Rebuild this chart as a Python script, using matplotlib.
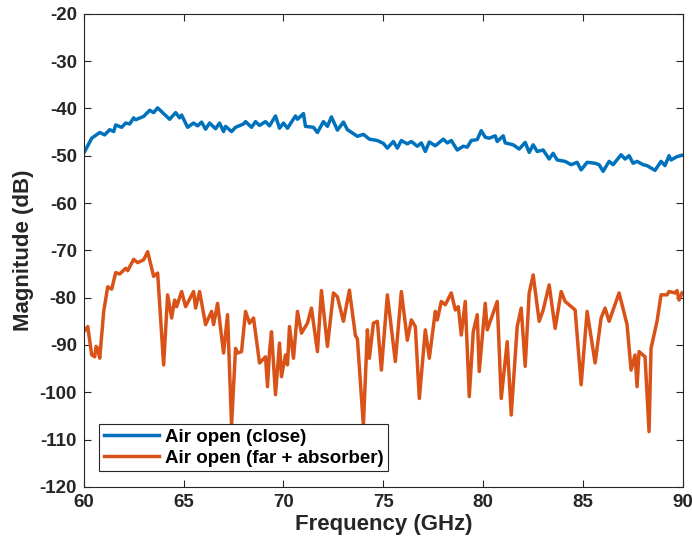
import matplotlib.pyplot as plt

plt.rcParams['font.family'] = ['Liberation Sans', 'DejaVu Sans']
plt.rcParams['font.weight'] = 'bold'
plt.rcParams['axes.unicode_minus'] = False

# Air open (close)
freq_close = [60.05, 60.4, 60.8, 61.05, 61.3, 61.5, 61.6, 61.9, 62.1, 62.3, 62.5, 62.6,
              63.0, 63.3, 63.5, 63.7, 64.0, 64.3, 64.6, 64.8, 64.9, 65.2, 65.5, 65.7,
              65.9, 66.1, 66.3, 66.6, 66.8, 67.0, 67.1, 67.4, 67.6, 68.0, 68.1, 68.4,
              68.6, 68.8, 69.1, 69.3, 69.6, 69.8, 70.0, 70.2, 70.6, 70.7, 71.0, 71.1,
              71.5, 71.7, 72.0, 72.2, 72.4, 72.7, 73.0, 73.2, 73.7, 74.0, 74.3, 74.7,
              75.0, 75.2, 75.5, 75.7, 75.9, 76.2, 76.4, 76.7, 76.9, 77.1, 77.3, 77.6,
              78.0, 78.2, 78.4, 78.7, 79.0, 79.2, 79.4, 79.7, 79.9, 80.1, 80.3, 80.6,
              80.7, 81.0, 81.1, 81.5, 81.8, 82.1, 82.3, 82.5, 82.7, 83.0, 83.3, 83.5,
              83.7, 84.1, 84.4, 84.7, 84.9, 85.2, 85.6, 85.8, 86.0, 86.3, 86.5, 86.9,
              87.1, 87.3, 87.5, 87.7, 88.0, 88.2, 88.6, 88.9, 89.1, 89.3, 89.4, 89.7,
              89.95]
mag_close = [-49.1, -46.3, -45.1, -45.6, -44.5, -44.9, -43.5, -44.0, -43.1, -43.3, -42.0, -42.4,
             -41.7, -40.4, -40.9, -39.9, -41.1, -42.3, -40.9, -42.0, -41.4, -44.0, -43.1, -43.7,
             -42.9, -44.4, -43.1, -44.3, -43.1, -44.9, -43.8, -44.9, -44.0, -43.3, -42.8, -44.0,
             -42.8, -43.6, -42.8, -43.7, -41.6, -44.2, -43.1, -44.2, -41.6, -42.3, -41.1, -43.8,
             -44.0, -45.1, -42.8, -43.8, -41.8, -44.6, -42.9, -44.5, -45.9, -45.5, -46.5, -46.8,
             -47.4, -48.4, -47.0, -48.4, -46.8, -47.5, -47.0, -48.0, -47.3, -49.1, -47.1, -47.9,
             -46.5, -47.3, -46.8, -48.8, -48.0, -48.2, -46.8, -46.6, -44.7, -46.1, -46.3, -45.8,
             -47.0, -45.8, -47.3, -47.7, -48.6, -47.2, -49.3, -47.7, -49.1, -48.8, -50.7, -49.5,
             -50.9, -51.2, -51.9, -51.4, -53.0, -51.4, -51.6, -51.9, -53.3, -51.2, -51.9, -49.8,
             -50.7, -50.0, -51.6, -51.2, -51.9, -52.1, -53.1, -51.2, -52.1, -50.0, -50.9, -50.2,
             -49.9]

# Air open (far + absorber)
freq_far = [60.0, 60.2, 60.4, 60.55, 60.62, 60.7, 60.8, 61.0, 61.2, 61.4, 61.6, 61.8,
            62.1, 62.2, 62.5, 62.7, 63.0, 63.2, 63.5, 63.7, 64.0, 64.2, 64.4, 64.55,
            64.65, 64.9, 65.1, 65.5, 65.6, 65.8, 66.1, 66.4, 66.5, 66.7, 67.0, 67.2,
            67.4, 67.6, 67.7, 67.9, 68.1, 68.3, 68.5, 68.8, 69.1, 69.2, 69.3, 69.4,
            69.6, 69.8, 69.9, 70.1, 70.2, 70.3, 70.5, 70.7, 70.9, 71.2, 71.4, 71.7,
            71.9, 72.2, 72.5, 72.7, 73.0, 73.3, 73.6, 73.7, 74.0, 74.2, 74.3, 74.5,
            74.7, 74.9, 75.2, 75.6, 75.9, 76.2, 76.4, 76.6, 76.8, 77.1, 77.3, 77.6,
            77.7, 77.9, 78.1, 78.4, 78.6, 78.75, 78.9, 79.1, 79.3, 79.5, 79.7, 79.8,
            80.1, 80.2, 80.7, 80.9, 81.2, 81.4, 81.7, 81.9, 82.1, 82.3, 82.5, 82.8,
            83.0, 83.3, 83.6, 83.9, 84.1, 84.6, 84.9, 85.2, 85.6, 85.9, 86.1, 86.3,
            86.8, 87.2, 87.4, 87.6, 87.7, 87.8, 88.1, 88.3, 88.4, 88.7, 88.9, 89.2,
            89.3, 89.6, 89.7, 89.8, 89.95]
mag_far = [-87.2, -86.1, -92.1, -92.5, -90.3, -90.7, -92.8, -82.9, -77.7, -78.2, -74.7, -75.0,
           -73.8, -74.3, -71.9, -72.6, -72.0, -70.3, -75.5, -74.8, -94.2, -79.4, -84.3, -80.5,
           -81.9, -78.7, -81.9, -78.7, -82.2, -78.7, -85.7, -82.9, -85.7, -81.2, -91.7, -83.6,
           -107.0, -90.7, -91.7, -91.4, -82.9, -85.4, -84.3, -93.8, -92.5, -98.8, -91.4, -87.2,
           -100.5, -89.6, -96.7, -92.1, -94.2, -86.1, -92.8, -82.9, -87.5, -85.4, -82.2, -91.4,
           -78.5, -90.3, -79.0, -79.8, -85.0, -78.4, -88.0, -88.7, -107.0, -86.8, -92.8, -85.4,
           -85.0, -95.3, -79.4, -93.5, -78.7, -89.0, -84.7, -86.1, -101.3, -86.8, -92.8, -82.9,
           -84.7, -80.8, -81.5, -79.0, -82.6, -81.9, -87.9, -80.8, -100.9, -87.2, -83.6, -95.6,
           -81.2, -86.8, -80.8, -101.3, -89.3, -104.8, -86.1, -82.2, -94.5, -79.0, -75.2, -85.0,
           -82.6, -77.3, -86.5, -78.7, -80.8, -82.6, -98.4, -82.9, -93.8, -84.3, -82.2, -85.0,
           -79.0, -85.7, -95.3, -92.1, -98.8, -91.4, -92.5, -108.3, -90.7, -85.0, -79.4, -79.4,
           -78.7, -79.0, -78.5, -80.5, -79.0]

fig, ax = plt.subplots(figsize=(6.92, 5.49), dpi=100)
fig.subplots_adjust(left=0.121, right=0.987, top=0.975, bottom=0.113)

ax.plot(freq_close, mag_close, color='#0072BD', lw=2.5, label='Air open (close)')
ax.plot(freq_far, mag_far, color='#D95319', lw=2.5, label='Air open (far + absorber)')

ax.set_xlim(60, 90)
ax.set_ylim(-120, -20)
ax.set_xticks(range(60, 91, 5))
ax.set_yticks(range(-120, -19, 10))
ax.tick_params(direction='in', labelsize=13.5, length=5, color='#262626', labelcolor='#262626',
               top=True, right=True, pad=5)
for s in ax.spines.values():
    s.set_color('#262626')
    s.set_linewidth(0.8)

ax.set_xlabel('Frequency (GHz)', fontsize=16, fontweight='bold', color='#262626', labelpad=2)
ax.set_ylabel('Magnitude (dB)', fontsize=16, fontweight='bold', color='#262626', labelpad=4)

leg = ax.legend(loc='lower left', bbox_to_anchor=(0.02, 0.025), fontsize=13.5,
                fancybox=False, edgecolor='#262626', framealpha=1,
                handlelength=2.9, borderpad=0.25, labelspacing=0.2, handletextpad=0.35,
                borderaxespad=0.2)
leg.get_frame().set_linewidth(0.8)

plt.savefig('out.png', dpi=100)
plt.close()
